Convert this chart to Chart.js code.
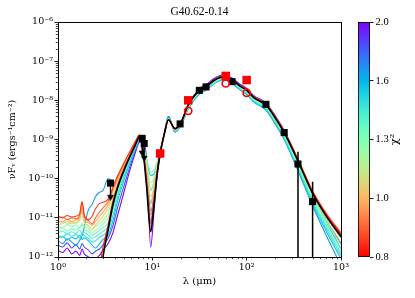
<!DOCTYPE html>
<html><head><meta charset="utf-8">
<script src="https://cdn.jsdelivr.net/npm/chart.js@4/dist/chart.umd.min.js"></script>
<style>
html,body{margin:0;padding:0;background:#fff;}
#wrap{position:relative;width:415px;height:298px;overflow:hidden;}
#main{position:absolute;left:0;top:0;}
#cb{position:absolute;left:340px;top:0;}
</style></head><body>
<div id="wrap"><canvas id="main" width="415" height="298"></canvas><canvas id="cb" width="75" height="298"></canvas></div>
<script>
// ---------- data ----------
const lam = [1, 1.12, 1.25, 1.4, 1.55, 1.7, 1.8, 1.9, 2.1, 2.3, 2.5, 2.75,
  3, 3.4, 3.8, 4.3, 5, 5.8, 6.6, 7.3,
  8, 8.7, 9.6, 10.4, 11.2, 12.1,
  13.5, 14.8, 17.4, 20, 24,
  31.5, 37, 45, 57, 70, 85, 100, 120,
  160, 200, 250, 350, 500, 700, 1000];
const bestFit = [1e-15, 1e-15, 1e-15, 1e-15, 1e-15, 1e-15, 1e-15, 1e-15, 2e-15, 8e-15, 3e-14, 1.5e-13,
  1e-12, 5e-12, 2e-11, 6e-11, 1.6e-10, 3.7e-10, 7.2e-10, 1.18e-9,
  4.6e-10, 6.2e-11, 4.4e-12, 2e-11, 1.2e-10, 4.4e-10,
  1.5e-9, 3.2e-9, 1.9e-9, 2.6e-9, 7.5e-9,
  1.8e-8, 2.2e-8, 3.2e-8, 4.0e-8, 3.3e-8, 2.3e-8, 1.8e-8, 1.15e-8,
  7.6e-9, 3.6e-9, 1.5e-9, 2.8e-10, 4.2e-11, 1.1e-11, 3.3e-12];

const modelChi2 = [1.98, 1.8, 1.65, 1.55, 1.45, 1.38, 1.3, 1.22, 1.14, 1.06, 0.98, 0.9, 0.85, 0.81];
const model01 = [1.5e-12, 1.3e-12, 1.7e-12, 1.2e-12, 1.4e-12, 1.1e-12, 1.6e-12, 1.2e-12, 1.0e-12, 8e-13, 9e-13, 1.1e-12,
  1.5e-12, 2.2e-12, 4e-12, 1.2e-11, 4.5e-11, 1.7e-10, 4.6e-10, 8.5e-10,
  8.8e-10, 3e-10, 1.8e-12, 1.4e-11, 1.1e-10, 3.9e-10,
  1.6e-9, 3.8e-9, 1.55e-9, 2.3e-9, 6.6e-9,
  2.0e-8, 2.5e-8, 3.6e-8, 4.5e-8, 3.7e-8, 2.6e-8, 2.0e-8, 1.3e-8,
  8.6e-9, 4.1e-9, 1.7e-9, 3.1e-10, 4.4e-11, 9e-12, 2.2e-12];
const model02 = [2.0e-12, 1.8e-12, 2.3e-12, 1.7e-12, 2.1e-12, 1.6e-12, 2.2e-12, 1.8e-12, 1.5e-12, 1.2e-12, 1.4e-12, 1.6e-12,
  2e-12, 3e-12, 6e-12, 1.9e-11, 6.5e-11, 2.1e-10, 5.3e-10, 9.3e-10,
  8.5e-10, 2.7e-10, 8e-12, 2.8e-11, 1.4e-10, 4.1e-10,
  1.55e-9, 3.9e-9, 1.65e-9, 2.45e-9, 6.9e-9,
  1.95e-8, 2.4e-8, 3.5e-8, 4.35e-8, 3.6e-8, 2.5e-8, 1.95e-8, 1.25e-8,
  8.3e-9, 4.0e-9, 1.65e-9, 3.0e-10, 4.2e-11, 8e-12, 1.6e-12];
const model03 = [2.6e-12, 2.2e-12, 2.9e-12, 2.4e-12, 2.0e-12, 2.7e-12, 3.5e-12, 6e-12, 1.6e-11, 2.2e-11, 3.5e-11, 4.5e-11,
  5e-11, 1.0e-10, 8.5e-11, 7.5e-11, 1.2e-10, 2.9e-10, 6e-10, 9.8e-10,
  7.8e-10, 2.4e-10, 1.5e-11, 3.5e-11, 1.6e-10, 4.3e-10,
  1.5e-9, 3.8e-9, 1.55e-9, 2.2e-9, 5.9e-9,
  1.45e-8, 1.8e-8, 2.65e-8, 3.3e-8, 2.7e-8, 1.85e-8, 1.42e-8, 8.9e-9,
  5.6e-9, 2.5e-9, 1.0e-9, 1.6e-10, 2.0e-11, 3.5e-12, 6e-13];
const model04 = [3.0e-12, 3.4e-12, 2.7e-12, 3.2e-12, 2.9e-12, 3.6e-12, 2.8e-12, 3.1e-12, 2.6e-12, 2.0e-12, 1.7e-12, 2.2e-12,
  2.8e-12, 3.6e-12, 8e-12, 2.8e-11, 9e-11, 2.6e-10, 5.8e-10, 9.5e-10,
  7.2e-10, 2.9e-10, 1.2e-10, 1.3e-10, 2.3e-10, 4.7e-10,
  1.5e-9, 3.6e-9, 1.6e-9, 2.25e-9, 6.1e-9,
  1.5e-8, 1.85e-8, 2.7e-8, 3.4e-8, 2.8e-8, 1.9e-8, 1.45e-8, 9.1e-9,
  5.8e-9, 2.65e-9, 1.05e-9, 1.75e-10, 2.3e-11, 4.5e-12, 9e-13];
const model05 = [3.6e-12, 3.2e-12, 4.0e-12, 3.4e-12, 3.8e-12, 3.0e-12, 4.2e-12, 3.5e-12, 3.0e-12, 2.4e-12, 2.6e-12, 3.2e-12,
  3.6e-12, 4.6e-12, 1.1e-11, 3.5e-11, 1.1e-10, 2.9e-10, 6.2e-10, 1.0e-9,
  6.2e-10, 1.6e-10, 2.5e-11, 5.5e-11, 1.8e-10, 4.5e-10,
  1.45e-9, 3.5e-9, 1.65e-9, 2.3e-9, 6.3e-9,
  1.55e-8, 1.9e-8, 2.75e-8, 3.45e-8, 2.85e-8, 1.95e-8, 1.5e-8, 9.4e-9,
  6.1e-9, 2.8e-9, 1.12e-9, 1.9e-10, 2.6e-11, 5.2e-12, 1.1e-12];
const model06 = [4.2e-12, 4.6e-12, 3.8e-12, 4.4e-12, 4.0e-12, 4.8e-12, 3.9e-12, 4.3e-12, 3.6e-12, 3.0e-12, 3.3e-12, 3.9e-12,
  4.5e-12, 6e-12, 1.5e-11, 4.3e-11, 1.25e-10, 3.1e-10, 6.5e-10, 1.03e-9,
  6.8e-10, 2.1e-10, 5e-11, 8e-11, 2.1e-10, 4.7e-10,
  1.45e-9, 3.4e-9, 1.7e-9, 2.35e-9, 6.4e-9,
  1.6e-8, 1.95e-8, 2.85e-8, 3.55e-8, 2.95e-8, 2.05e-8, 1.58e-8, 1.0e-8,
  6.5e-9, 3.0e-9, 1.2e-9, 2.1e-10, 2.9e-11, 6e-12, 1.3e-12];
const model07 = [5.0e-12, 5.6e-12, 4.6e-12, 5.3e-12, 4.8e-12, 5.8e-12, 6.5e-12, 5.2e-12, 4.4e-12, 3.6e-12, 4.0e-12, 4.8e-12,
  5.6e-12, 7.5e-12, 1.8e-11, 5e-11, 1.4e-10, 3.3e-10, 6.8e-10, 1.06e-9,
  7.8e-10, 3.3e-10, 1.5e-10, 1.6e-10, 2.6e-10, 5e-10,
  1.45e-9, 3.4e-9, 1.7e-9, 2.4e-9, 6.6e-9,
  1.65e-8, 2.0e-8, 2.9e-8, 3.65e-8, 3.0e-8, 2.1e-8, 1.62e-8, 1.03e-8,
  6.8e-9, 3.15e-9, 1.28e-9, 2.25e-10, 3.2e-11, 7e-12, 1.6e-12];
const model08 = [6.2e-12, 5.6e-12, 6.8e-12, 6.0e-12, 6.6e-12, 5.4e-12, 7.2e-12, 6.1e-12, 5.2e-12, 4.3e-12, 4.8e-12, 5.8e-12,
  7e-12, 1.0e-11, 2.4e-11, 6e-11, 1.55e-10, 3.5e-10, 7e-10, 1.1e-9,
  7.3e-10, 2.6e-10, 8e-11, 1.05e-10, 2.3e-10, 4.9e-10,
  1.45e-9, 3.3e-9, 1.75e-9, 2.45e-9, 6.8e-9,
  1.7e-8, 2.1e-8, 3.0e-8, 3.75e-8, 3.1e-8, 2.15e-8, 1.68e-8, 1.07e-8,
  7.0e-9, 3.3e-9, 1.35e-9, 2.4e-10, 3.5e-11, 8e-12, 2.0e-12];
const model09 = [7.5e-12, 8.2e-12, 7.0e-12, 7.8e-12, 7.2e-12, 8.5e-12, 1.1e-11, 7.6e-12, 6.5e-12, 5.5e-12, 6.0e-12, 7.0e-12,
  8.5e-12, 1.3e-11, 3.2e-11, 7.5e-11, 1.75e-10, 3.8e-10, 7.4e-10, 1.14e-9,
  7e-10, 2.2e-10, 5.5e-11, 8.5e-11, 2.0e-10, 4.8e-10,
  1.45e-9, 3.25e-9, 1.8e-9, 2.5e-9, 7.0e-9,
  1.75e-8, 2.15e-8, 3.1e-8, 3.85e-8, 3.2e-8, 2.2e-8, 1.72e-8, 1.1e-8,
  7.2e-9, 3.4e-9, 1.4e-9, 2.55e-10, 3.7e-11, 9e-12, 2.4e-12];
const model10 = [6.5e-12, 7.2e-12, 8.0e-12, 7.0e-12, 7.6e-12, 9.5e-12, 1.5e-11, 8.0e-12, 6.0e-12, 5.0e-12, 6.5e-12, 8.5e-12,
  1.1e-11, 1.8e-11, 4.2e-11, 9e-11, 2e-10, 4.2e-10, 7.8e-10, 1.18e-9,
  6.6e-10, 1.7e-10, 3.5e-11, 6e-11, 1.8e-10, 4.7e-10,
  1.45e-9, 3.15e-9, 1.8e-9, 2.55e-9, 7.2e-9,
  1.78e-8, 2.2e-8, 3.15e-8, 3.9e-8, 3.25e-8, 2.28e-8, 1.78e-8, 1.14e-8,
  7.5e-9, 3.55e-9, 1.48e-9, 2.75e-10, 4.1e-11, 1.05e-11, 3.0e-12];
const model11 = [8.5e-12, 7.8e-12, 9.2e-12, 8.0e-12, 8.8e-12, 1.0e-11, 1.8e-11, 9.0e-12, 7.5e-12, 6.5e-12, 8.0e-12, 1.1e-11,
  1.4e-11, 2.2e-11, 4.8e-11, 1.0e-10, 2.2e-10, 4.5e-10, 8.2e-10, 1.22e-9,
  6.1e-10, 1.3e-10, 2.2e-11, 4.5e-11, 1.6e-10, 4.6e-10,
  1.5e-9, 3.1e-9, 1.8e-9, 2.6e-9, 7.3e-9,
  1.8e-8, 2.2e-8, 3.2e-8, 3.95e-8, 3.3e-8, 2.32e-8, 1.82e-8, 1.17e-8,
  7.8e-9, 3.75e-9, 1.6e-9, 3.0e-10, 4.6e-11, 1.2e-11, 3.6e-12];
const model12 = [9.5e-12, 1.05e-11, 9.0e-12, 1.0e-11, 9.4e-12, 1.2e-11, 2.5e-11, 1.1e-11, 8.5e-12, 7.0e-12, 1.0e-11, 1.4e-11,
  1.8e-11, 2.6e-11, 5.4e-11, 1.15e-10, 2.45e-10, 4.9e-10, 8.8e-10, 1.27e-9,
  5.7e-10, 1.0e-10, 1.2e-11, 3.2e-11, 1.45e-10, 4.6e-10,
  1.5e-9, 3.15e-9, 1.85e-9, 2.65e-9, 7.6e-9,
  1.85e-8, 2.25e-8, 3.25e-8, 4.05e-8, 3.35e-8, 2.35e-8, 1.85e-8, 1.2e-8,
  8.0e-9, 3.9e-9, 1.65e-9, 3.15e-10, 4.9e-11, 1.3e-11, 4.2e-12];
const model13 = [1.1e-11, 1.0e-11, 1.15e-11, 1.05e-11, 1.1e-11, 1.3e-11, 2.6e-11, 1.2e-11, 9.0e-12, 1.1e-11, 1.7e-11, 2.3e-11,
  2.5e-11, 3.0e-11, 5.8e-11, 1.2e-10, 2.5e-10, 5e-10, 9e-10, 1.3e-9,
  5.4e-10, 8.5e-11, 7e-12, 2.6e-11, 1.4e-10, 4.7e-10,
  1.55e-9, 3.1e-9, 1.85e-9, 2.7e-9, 7.6e-9,
  1.85e-8, 2.25e-8, 3.25e-8, 4.0e-8, 3.35e-8, 2.35e-8, 1.85e-8, 1.2e-8,
  7.9e-9, 3.8e-9, 1.6e-9, 3.0e-10, 4.6e-11, 1.2e-11, 3.8e-12];
const model14 = [1e-14, 1e-14, 1e-14, 1e-14, 1e-14, 1e-14, 1e-14, 1e-14, 3e-14, 1e-13, 2.5e-13, 5e-13,
  1.8e-12, 6.5e-12, 2.5e-11, 7e-11, 1.8e-10, 4e-10, 7.8e-10, 1.22e-9,
  5e-10, 7e-11, 5e-12, 2.2e-11, 1.3e-10, 4.6e-10,
  1.5e-9, 3.2e-9, 1.9e-9, 2.7e-9, 7.8e-9,
  1.9e-8, 2.3e-8, 3.3e-8, 4.1e-8, 3.4e-8, 2.4e-8, 1.9e-8, 1.2e-8,
  8.0e-9, 3.8e-9, 1.6e-9, 3.0e-10, 4.6e-11, 1.2e-11, 3.8e-12];
const models = [model01, model02, model03, model04, model05, model06, model07, model08, model09, model10, model11, model12, model13, model14];

// observed photometry
const detLam  = [19.7, 31.5, 37.1, 70, 160, 250, 350, 500];
const detFlux = [2.5e-9, 1.8e-8, 2.2e-8, 3.0e-8, 7.9e-9, 1.5e-9, 2.37e-10, 2.6e-11];
const errLam    = [350, 500];
const errTop    = [4.9e-10, 8.4e-11];
const errBottom = [1e-14, 1e-14];
const ulLam  = [3.6, 7.8, 8.2];
const ulFlux = [7.7e-11, 1.07e-9, 7.9e-10];
const ulTip  = [3.4e-11, 4.6e-10, 3.4e-10];
const redSqLam  = [12.1, 24, 60, 100];
const redSqFlux = [4.4e-10, 1.0e-8, 4.2e-8, 3.3e-8];
const redCircLam  = [24, 60, 100];
const redCircFlux = [5.4e-9, 2.7e-8, 1.56e-8];

// axes / labels
const titleText = 'G40.62-0.14';
const xMajor = [1, 10, 100, 1000];
const xMajorLabels = ['10⁰', '10¹', '10²', '10³'];
const yMajor = [1e-12, 1e-11, 1e-10, 1e-9, 1e-8, 1e-7, 1e-6];
const yMajorLabels = ['10⁻¹²', '10⁻¹¹', '10⁻¹⁰', '10⁻⁹', '10⁻⁸', '10⁻⁷', '10⁻⁶'];
const cbTickLabels = ['0.8', '1.0', '1.3', '1.6', '2.0'];
const cbMin = Math.pow(10, -0.1), cbMax = Math.pow(10, 0.3);

// ---------- colour map (matplotlib rainbow, reversed) ----------
function rainbow(t) {
  const r = Math.min(1, Math.abs(2 * t - 0.5));
  const g = Math.sin(Math.PI * t);
  const b = Math.cos(Math.PI * t / 2);
  return `rgb(${Math.round(r*255)},${Math.round(g*255)},${Math.round(b*255)})`;
}
function chiColor(c) {
  const tr = Math.log(c / cbMin) / Math.log(cbMax / cbMin);
  return rainbow(1 - Math.max(0, Math.min(1, tr)));
}

// ---------- datasets ----------
const pts = (xs, ys) => xs.map((x, i) => ({x, y: ys[i]}));
const datasets = [];
models.forEach((m, i) => {
  datasets.push({
    data: pts(lam, m), showLine: true, pointRadius: 0, borderWidth: 1.1,
    borderColor: chiColor(modelChi2[i]), cubicInterpolationMode: 'monotone',
    order: 100 - i
  });
});
datasets.push({data: pts(lam, bestFit), showLine: true, pointRadius: 0, borderWidth: 1.6,
  borderColor: '#000', cubicInterpolationMode: 'monotone', order: 50});
errLam.forEach((x, i) => {
  datasets.push({data: [{x, y: errTop[i]}, {x, y: errBottom[i]}], showLine: true, pointRadius: 0,
    borderWidth: 1.5, borderColor: '#000', order: 10});
});
ulLam.forEach((x, i) => {
  datasets.push({data: [{x, y: ulFlux[i]}, {x, y: ulTip[i]}], showLine: true,
    pointRadius: [0, 3.5], pointStyle: 'triangle', rotation: 180,
    pointBackgroundColor: '#000', pointBorderColor: '#000', pointBorderWidth: 0.5,
    borderWidth: 1.3, borderColor: '#000', order: 9});
});
datasets.push({data: pts(ulLam, ulFlux), pointStyle: 'rect', pointRadius: 5,
  pointBackgroundColor: '#000', pointBorderColor: '#000', pointBorderWidth: 0, order: 5});
datasets.push({data: pts(detLam, detFlux), pointStyle: 'rect', pointRadius: 5,
  pointBackgroundColor: '#000', pointBorderColor: '#000', pointBorderWidth: 0, order: 5});
datasets.push({data: pts(redSqLam, redSqFlux), pointStyle: 'rect', pointRadius: 6,
  pointBackgroundColor: '#ff0000', pointBorderColor: '#ff0000', pointBorderWidth: 0, order: 4});
datasets.push({data: pts(redCircLam, redCircFlux), pointStyle: 'circle', pointRadius: 3.6,
  pointBackgroundColor: 'rgba(0,0,0,0)', pointBorderColor: '#ff0000', pointBorderWidth: 1.6, order: 3});

// ---------- plugins ----------
const framePlugin = {
  id: 'frame',
  afterDraw(chart) {
    const {ctx, chartArea: a, scales} = chart;
    ctx.save();
    ctx.strokeStyle = '#000';
    ctx.lineWidth = 0.7;
    ctx.beginPath();
    xMajor.forEach(d => { for (let k = 2; k <= 9; k++) { const v = d * k; if (v > 1000) continue;
      const px = Math.round(scales.x.getPixelForValue(v)) + 0.5; ctx.moveTo(px, a.bottom); ctx.lineTo(px, a.bottom + 2.2); } });
    yMajor.forEach(d => { for (let k = 2; k <= 9; k++) { const v = d * k; if (v > 1e-6) continue;
      const py = Math.round(scales.y.getPixelForValue(v)) + 0.5; ctx.moveTo(a.left, py); ctx.lineTo(a.left - 2.2, py); } });
    ctx.stroke();
    ctx.lineWidth = 1;
    ctx.strokeRect(Math.round(a.left) + 0.5, Math.round(a.top) + 0.5, Math.round(a.right - a.left), Math.round(a.bottom - a.top));
    // title centred over the plotting area
    ctx.fillStyle = '#000';
    ctx.font = '11.5px "Liberation Serif"';
    ctx.textAlign = 'center'; ctx.textBaseline = 'middle';
    ctx.fillText(titleText, (a.left + a.right) / 2, 12);
    ctx.restore();
  }
};

Chart.defaults.font.family = 'DejaVu Serif';
Chart.defaults.color = '#000';

new Chart(document.getElementById('main'), {
  type: 'scatter',
  data: {datasets},
  options: {
    responsive: false, animation: false, devicePixelRatio: 1,
    layout: {padding: {left: 0, right: 74, top: 22, bottom: 0}},
    plugins: {legend: {display: false}, tooltip: {enabled: false}, title: {display: false}},
    scales: {
      x: {
        type: 'logarithmic', min: 1, max: 1000, position: 'bottom',
        afterBuildTicks: s => { s.ticks = xMajor.map(v => ({value: v})); },
        afterFit: s => { s.height = 41; },
        ticks: {callback: v => xMajorLabels[xMajor.indexOf(v)] ?? '', autoSkip: false, maxRotation: 0,
          font: {size: 9.5}, color: '#000', padding: 1.5},
        grid: {drawOnChartArea: false, drawTicks: true, tickLength: 3.5, tickColor: '#000', tickWidth: 0.9},
        border: {display: false},
        title: {display: true, text: 'λ (μm)', font: {size: 10}, color: '#000', padding: {top: 2, bottom: 11}}
      },
      y: {
        type: 'logarithmic', min: 1e-12, max: 1e-6, position: 'left',
        afterBuildTicks: s => { s.ticks = yMajor.map(v => ({value: v})); },
        afterFit: s => { s.width = 58; },
        ticks: {callback: v => { const i = yMajor.findIndex(m => Math.abs(m - v) / m < 1e-6); return i >= 0 ? yMajorLabels[i] : ''; },
          autoSkip: false, font: {size: 9.5}, color: '#000', padding: 1.5},
        grid: {drawOnChartArea: false, drawTicks: true, tickLength: 3.5, tickColor: '#000', tickWidth: 0.9},
        border: {display: false},
        title: {display: true, text: 'νFᵥ (ergs⁻¹cm⁻²)', font: {size: 9.5}, color: '#000', padding: {top: 7, bottom: 0}}
      }
    }
  },
  plugins: [framePlugin]
});

// ---------- colour bar ----------
const cbLabelPlugin = {
  id: 'cblabel',
  afterDraw(chart) {
    const {ctx, chartArea: a} = chart;
    ctx.save();
    ctx.strokeStyle = '#000'; ctx.lineWidth = 0.8;
    ctx.strokeRect(a.left + 0.5, a.top + 0.5, a.right - a.left - 1, a.bottom - a.top - 1);
    ctx.translate(55, (a.top + a.bottom) / 2);
    ctx.rotate(-Math.PI / 2);
    ctx.fillStyle = '#000';
    ctx.font = '11px "DejaVu Serif"';
    ctx.textAlign = 'center'; ctx.textBaseline = 'middle';
    ctx.fillText('χ²', 0, 0);
    ctx.restore();
  }
};
new Chart(document.getElementById('cb'), {
  type: 'bar',
  data: {labels: [''], datasets: [{
    data: [[0, cbTickLabels.length - 1]], borderWidth: 0, barPercentage: 1, categoryPercentage: 1,
    backgroundColor: (c) => {
      const a = c.chart.chartArea; if (!a) return '#f00';
      const g = c.chart.ctx.createLinearGradient(0, a.bottom, 0, a.top);
      for (let k = 0; k <= 40; k++) g.addColorStop(k / 40, rainbow(1 - k / 40));
      return g;
    }
  }]},
  options: {
    responsive: false, animation: false, devicePixelRatio: 1,
    layout: {padding: {left: 18, right: 0, top: 22, bottom: 41}},
    plugins: {legend: {display: false}, tooltip: {enabled: false}},
    scales: {
      x: {display: false},
      y: {
        position: 'right', min: 0, max: cbTickLabels.length - 1,
        afterBuildTicks: s => { s.ticks = cbTickLabels.map((_, i) => ({value: i})); },
        afterFit: s => { s.width = 45; },
        ticks: {callback: v => cbTickLabels[v], font: {family: 'Liberation Serif', size: 10.5}, color: '#000', padding: 2},
        grid: {drawOnChartArea: false, drawTicks: true, tickLength: 3.5, tickColor: '#000', tickWidth: 0.9},
        border: {display: false}
      }
    }
  },
  plugins: [cbLabelPlugin]
});
</script>
</body></html>
